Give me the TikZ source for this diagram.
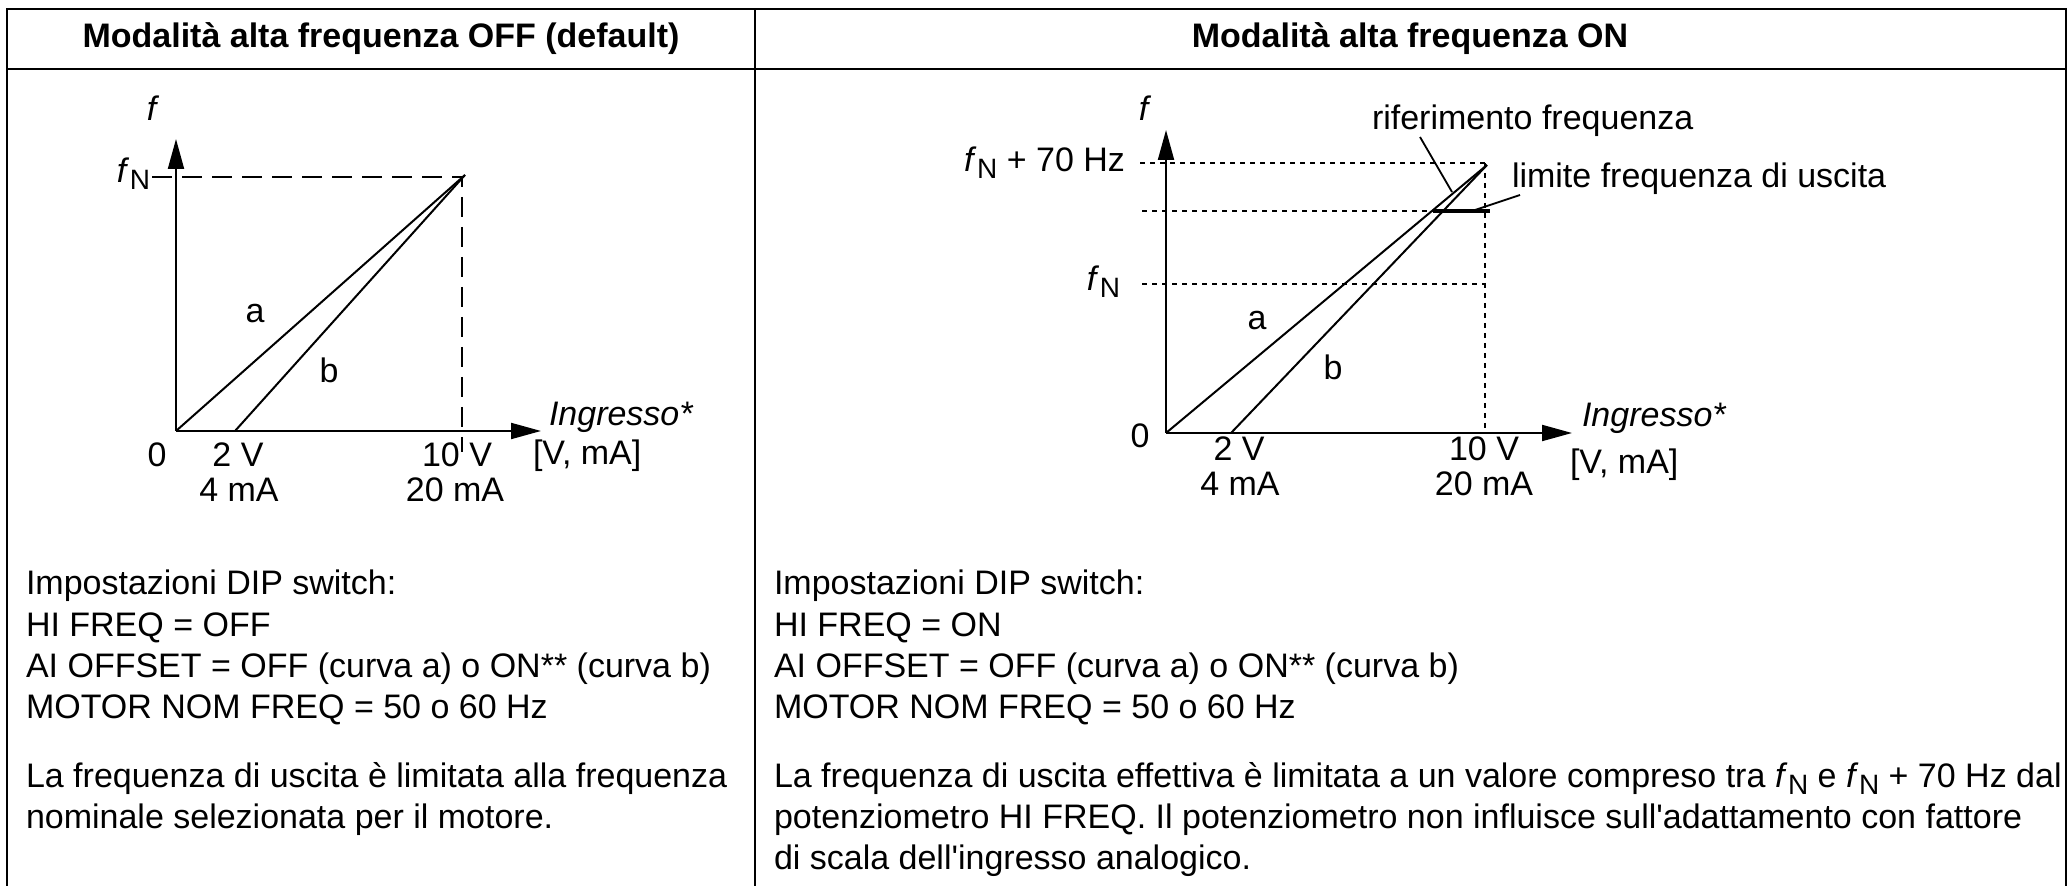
\documentclass[tikz,border=0pt]{standalone}
\usepackage{fontspec}
\setmainfont{Liberation Sans}[Ligatures=TeXOff]
\usetikzlibrary{arrows.meta}
\newcommand{\fN}{\textit{f}\kern0.3pt\raisebox{-3.5pt}{\fontsize{14}{14}\selectfont N}}
\begin{document}
\begin{tikzpicture}[x=0.5pt,y=-0.5pt,
  txt/.style={inner sep=0pt, outer sep=0pt, font=\fontsize{17}{20.5}\selectfont},
  ttl/.style={inner sep=0pt, outer sep=0pt, font=\fontsize{17}{20.5}\selectfont\bfseries},
  frame/.style={line width=1.25pt},
  axis/.style={line width=1pt, -{Triangle[length=15pt,width=8pt]}},
  curve/.style={line width=1pt},
  dashedguide/.style={line width=0.9pt, dash pattern=on 10pt off 5pt},
  dottedguide/.style={line width=0.9pt, dash pattern=on 2.5pt off 2.5pt},
  leader/.style={line width=0.9pt},
  limitline/.style={line width=2pt}]
\useasboundingbox (0,0) rectangle (2070,886);
% table frame
\draw[frame] (7,886) -- (7,9) -- (2066,9) -- (2066,886);
\draw[frame] (7,69) -- (2066,69);
\draw[frame] (755,9) -- (755,886);
% titles
\node[ttl, anchor=base] (t1) at (381,48) {Modalità alta frequenza OFF (default)};
\node[ttl, anchor=base] (t2) at (1410,48) {Modalità alta frequenza ON};
% ---------- left chart ----------
\coordinate (O1) at (176,431);
\coordinate (Y1) at (176,139);
\coordinate (X1) at (541,431);
\coordinate (P1) at (465,175);
\coordinate (B1) at (235,431);
\draw[dashedguide] (152,177) -- (462,177) -- (462,452);
\draw[axis] (O1) -- (Y1);
\draw[axis] (O1) -- (X1);
\draw[curve] (O1) -- (P1);
\draw[curve] (B1) -- (P1);
\node[txt, anchor=base] (lf) at (153,121) {\textit{f}};
\node[txt, anchor=base east] (lfn) at (150,183) {\fN};
\node[txt, anchor=base] (la) at (255,323) {a};
\node[txt, anchor=base] (lb) at (329,383) {b};
\node[txt, anchor=base] (l0) at (157,467) {0};
\node[txt, anchor=base] (l2v) at (238,467) {2 V};
\node[txt, anchor=base] (l4ma) at (239,502) {4 mA};
\node[txt, anchor=base] (l10v) at (457,467) {10 V};
\node[txt, anchor=base] (l20ma) at (455,502) {20 mA};
\node[txt, anchor=base west] (lin) at (549,426) {\textit{Ingresso*}};
\node[txt, anchor=base west] (lun) at (533,465) {[V, mA]};
% ---------- right chart ----------
\coordinate (O2) at (1166,433);
\coordinate (Y2) at (1166,130);
\coordinate (X2) at (1572,433);
\coordinate (P2) at (1487,165);
\coordinate (B2) at (1231,433);
\draw[dottedguide] (1140,163) -- (1485,163);
\draw[dottedguide] (1142,211) -- (1485,211);
\draw[dottedguide] (1142,284) -- (1485,284);
\draw[dottedguide] (1485,163) -- (1485,433);
\draw[axis] (O2) -- (Y2);
\draw[axis] (O2) -- (X2);
\draw[curve] (O2) -- (P2);
\draw[curve] (B2) -- (P2);
\coordinate (LimA) at (1433,211);
\coordinate (LimB) at (1490,211);
\draw[limitline] (LimA) -- (LimB);
\node[txt, anchor=base] (rf) at (1145,121) {\textit{f}};
\node[txt, anchor=base east] (rfn70) at (1125,172) {\fN{} + 70 Hz};
\node[txt, anchor=base east] (rfn) at (1120,291) {\fN};
\node[txt, anchor=base] (ra) at (1257,330) {a};
\node[txt, anchor=base] (rb) at (1333,380) {b};
\node[txt, anchor=base] (r0) at (1140,448) {0};
\node[txt, anchor=base] (r2v) at (1239,461) {2 V};
\node[txt, anchor=base] (r4ma) at (1240,496) {4 mA};
\node[txt, anchor=base] (r10v) at (1484,461) {10 V};
\node[txt, anchor=base] (r20ma) at (1484,496) {20 mA};
\node[txt, anchor=base west] (rin) at (1582,427) {\textit{Ingresso*}};
\node[txt, anchor=base west] (run) at (1570,474) {[V, mA]};
\node[txt, anchor=base west] (rrif) at (1372,130) {riferimento frequenza};
\node[txt, anchor=base west] (rlim) at (1512,188) {limite frequenza di uscita};
\coordinate (RifS) at (1420,137);
\coordinate (RifE) at (1452,192);
\coordinate (LimS) at (1520,195);
\coordinate (LimE) at (1472,211);
\draw[leader] (RifS) -- (RifE);
\draw[leader] (LimS) -- (LimE);
% ---------- body text left ----------
\node[txt, anchor=base west] (b1) at (26,595) {Impostazioni DIP switch:};
\node[txt, anchor=base west] (b2) at (26,636) {HI FREQ = OFF};
\node[txt, anchor=base west] (b3) at (26,677) {AI OFFSET = OFF (curva a) o ON** (curva b)};
\node[txt, anchor=base west] (b4) at (26,718) {MOTOR NOM FREQ = 50 o 60 Hz};
\node[txt, anchor=base west] (b5) at (26,787) {La frequenza di uscita è limitata alla frequenza};
\node[txt, anchor=base west] (b6) at (26,828) {nominale selezionata per il motore.};
% ---------- body text right ----------
\node[txt, anchor=base west] (c1) at (774,595) {Impostazioni DIP switch:};
\node[txt, anchor=base west] (c2) at (774,636) {HI FREQ = ON};
\node[txt, anchor=base west] (c3) at (774,677) {AI OFFSET = OFF (curva a) o ON** (curva b)};
\node[txt, anchor=base west] (c4) at (774,718) {MOTOR NOM FREQ = 50 o 60 Hz};
\node[txt, anchor=base west] (c5) at (774,787) {La frequenza di uscita effettiva è limitata a un valore compreso tra \fN{} e \fN{} + 70 Hz dal};
\node[txt, anchor=base west] (c6) at (774,828) {potenziometro HI FREQ. Il potenziometro non influisce sull'adattamento con fattore};
\node[txt, anchor=base west] (c7) at (774,869) {di scala dell'ingresso analogico.};
\end{tikzpicture}
\end{document}
